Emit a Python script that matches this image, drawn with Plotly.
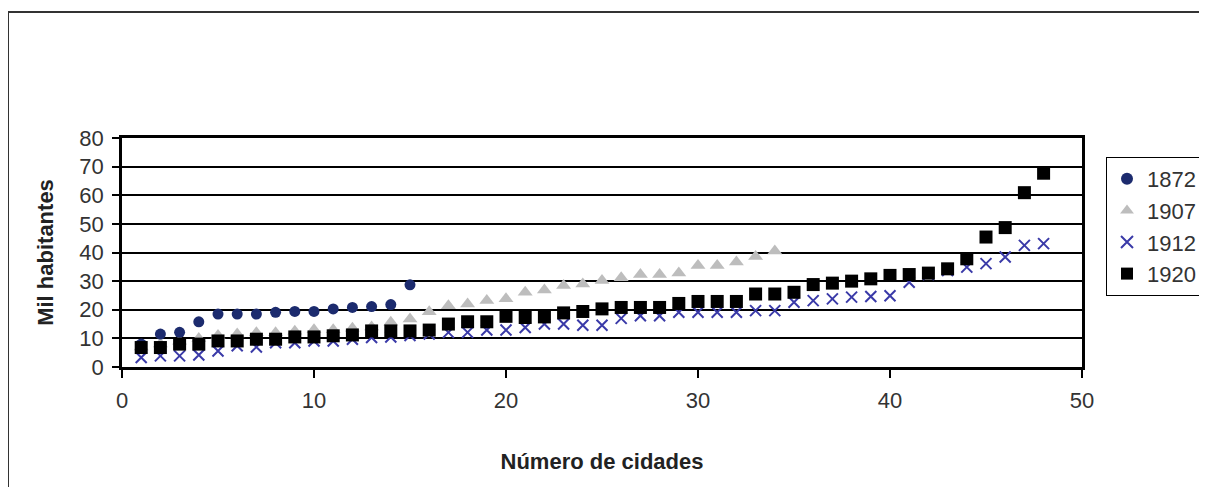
import plotly.graph_objects as go

cities_1872 = list(range(1, 16))
pop_1872 = [8.0, 11.5, 12.1, 15.8, 18.5, 18.5, 18.5, 19.1, 19.4, 19.4, 20.3, 20.8, 21.1, 21.8, 28.7]

cities_1907 = list(range(1, 35))
pop_1907 = [7.0, 8.0, 9.0, 10.0, 11.0, 11.5, 12.0, 12.0, 12.5, 13.0, 13.0, 13.5, 14.0, 15.6, 16.8,
            19.3, 21.4, 22.0, 23.2, 23.8, 26.1, 26.9, 28.5, 29.0, 30.2, 31.2, 32.3, 32.3, 32.8,
            35.5, 35.5, 36.7, 38.6, 40.5]

cities_1912 = list(range(1, 49))
pop_1912 = [3.3, 3.9, 3.9, 4.2, 5.6, 7.4, 7.0, 8.5, 8.5, 9.1, 9.1, 9.7, 10.3, 10.5, 11.0,
            11.5, 12.1, 12.1, 12.9, 12.9, 13.8, 15.0, 15.0, 14.6, 14.6, 17.0, 17.9, 17.9, 19.1,
            19.1, 19.1, 19.1, 19.7, 19.7, 22.6, 23.2, 23.8, 24.4, 24.6, 24.9, 29.6, 32.3, 33.7,
            34.9, 36.1, 38.4, 42.5, 43.1]

cities_1920 = list(range(1, 49))
pop_1920 = [6.8, 6.8, 8.0, 8.0, 9.1, 9.1, 9.7, 9.7, 10.5, 10.5, 10.9, 11.2, 12.6, 12.6, 12.6,
            12.9, 15.0, 15.8, 15.8, 17.7, 17.3, 17.5, 18.9, 19.4, 20.3, 20.8, 20.8, 20.8, 22.2,
            22.9, 22.9, 22.9, 25.5, 25.5, 26.1, 28.8, 29.3, 30.0, 30.8, 32.0, 32.3, 32.8, 34.3,
            37.8, 45.4, 48.7, 60.9, 67.7]

x_ticks = [0, 10, 20, 30, 40, 50]
y_ticks = [0, 10, 20, 30, 40, 50, 60, 70, 80]

fig = go.Figure()
fig.add_trace(go.Scatter(x=cities_1907, y=pop_1907, mode="markers", name="1907", legendrank=2,
                         marker=dict(symbol="triangle-up", size=13, color="#bdbdbd")))
fig.add_trace(go.Scatter(x=cities_1872, y=pop_1872, mode="markers", name="1872", legendrank=1,
                         marker=dict(symbol="circle", size=11, color="#1c2b6e")))
fig.add_trace(go.Scatter(x=cities_1912, y=pop_1912, mode="markers", name="1912", legendrank=3,
                         marker=dict(symbol="x-thin", size=11, color="#3a3aa8",
                                     line=dict(width=2, color="#3a3aa8"))))
fig.add_trace(go.Scatter(x=cities_1920, y=pop_1920, mode="markers", name="1920", legendrank=4,
                         marker=dict(symbol="square", size=13, color="#000000")))

font_family = "Liberation Sans, Arial, sans-serif"

# page body has an 8px margin; figure sized so the page does not overflow
W, H = 1199, 479
L, R, T, B = 114, 1074, 130, 359   # plot area in figure pixels
pw, ph = R - L, B - T

fig.update_layout(
    width=W, height=H,
    margin=dict(l=L, r=W - R, t=T, b=H - B, autoexpand=False),
    paper_bgcolor="white", plot_bgcolor="white",
    font=dict(family=font_family, size=22, color="#333333"),
    showlegend=True,
    legend=dict(x=(1098 - L) / pw, y=(B - 149) / ph, xanchor="left", yanchor="top",
                bordercolor="#000000", borderwidth=1, bgcolor="white",
                font=dict(size=22, color="#333333"), traceorder="normal",
                itemsizing="constant", itemwidth=30),
    xaxis=dict(range=[0, 50], tickvals=x_ticks, showgrid=False, zeroline=False,
               showline=True, linecolor="black", linewidth=2.5, mirror=True,
               ticks="outside", ticklen=8, tickcolor="black", tickwidth=1.5,
               ticklabelstandoff=4,
               title=dict(text="<b>Número de cidades</b>", font=dict(size=22, color="#222222"),
                          standoff=42)),
    yaxis=dict(range=[0, 80], tickvals=y_ticks, showgrid=True, gridcolor="#000000", gridwidth=1.5,
               zeroline=False, showline=True, linecolor="black", linewidth=2.5, mirror=True,
               ticks="outside", ticklen=7, tickcolor="black", tickwidth=1.5,
               ticklabelstandoff=4,
               title=dict(text="<b>Mil habitantes</b>", font=dict(size=22, color="#222222"),
                          standoff=20)),
)

# outer frame
fig.add_shape(type="rect", xref="paper", yref="paper",
              x0=(0 - L) / pw, x1=(W + 30 - L) / pw,
              y0=(B - H - 30) / ph, y1=(B - 4) / ph,
              line=dict(color="#333333", width=2), layer="below")

fig.write_html("out.html")
